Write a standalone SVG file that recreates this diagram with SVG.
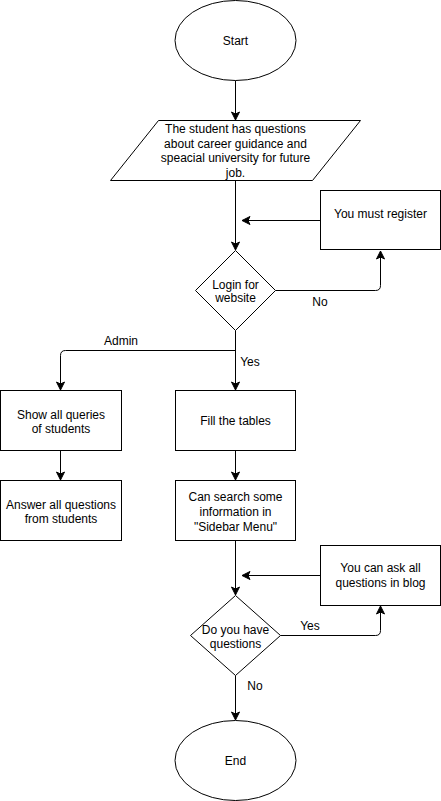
<svg xmlns="http://www.w3.org/2000/svg" width="441" height="801" viewBox="0 0 441 801">
<style>
.s{fill:#fff;stroke:#000;stroke-width:1}
.e{fill:none;stroke:#000;stroke-width:1}
text{font-family:"Liberation Sans",Arial,sans-serif;font-size:12px;fill:#000;text-anchor:middle}
</style>
<defs>
<marker id="a" markerUnits="userSpaceOnUse" markerWidth="10" markerHeight="10" viewBox="0 0 10 10" refX="9" refY="5" orient="auto">
<path d="M1,1 L9,5 L1,9 L3,5 z" fill="#000" stroke="#000" stroke-width="1"/>
</marker>
</defs>
<rect width="441" height="801" fill="#fff"/>
<g id="connectors">
<path class="e" d="M235.5,80.5 L235.5,120" marker-end="url(#a)"/>
<path class="e" d="M235.5,180.5 L235.5,250" marker-end="url(#a)"/>
<path class="e" d="M320.5,220.5 L242,220.5" marker-end="url(#a)"/>
<path class="e" d="M275.5,290.5 L375.5,290.5 Q380.5,290.5 380.5,285.5 L380.5,251" marker-end="url(#a)"/>
<path class="e" d="M235.5,330.5 L235.5,390" marker-end="url(#a)"/>
<path class="e" d="M235.5,350.5 L65.5,350.5 Q60.5,350.5 60.5,355.5 L60.5,390" marker-end="url(#a)"/>
<path class="e" d="M60.5,450.5 L60.5,480" marker-end="url(#a)"/>
<path class="e" d="M235.5,450.5 L235.5,480" marker-end="url(#a)"/>
<path class="e" d="M235.5,540.5 L235.5,595" marker-end="url(#a)"/>
<path class="e" d="M320.5,575.5 L242,575.5" marker-end="url(#a)"/>
<path class="e" d="M280.5,635.5 L375.5,635.5 Q380.5,635.5 380.5,630.5 L380.5,606" marker-end="url(#a)"/>
<path class="e" d="M235.5,675.5 L235.5,720" marker-end="url(#a)"/>
<text x="320" y="306">No</text>
<text x="121" y="345">Admin</text>
<text x="250" y="366">Yes</text>
<text x="310" y="630">Yes</text>
<text x="255" y="690">No</text>
</g>
<g id="start">
<ellipse class="s" cx="235.5" cy="40.5" rx="60.5" ry="40"/>
<text x="235.5" y="45">Start</text>
</g>
<g id="question">
<polygon class="s" points="158.5,120.5 360.5,120.5 312.5,180.5 110.5,180.5"/>
<text x="235.5" y="133">The student has questions</text>
<text x="235.5" y="148">about career guidance and</text>
<text x="235.5" y="162">speacial university for future</text>
<text x="235.5" y="177">job.</text>
</g>
<g id="register">
<rect class="s" x="320.5" y="190.5" width="120" height="59"/>
<text x="380.5" y="218">You must register</text>
</g>
<g id="login">
<polygon class="s" points="235.5,250.5 275.5,290.5 235.5,330.5 195.5,290.5"/>
<text x="235.5" y="289">Login for</text>
<text x="235.5" y="302">website</text>
</g>
<g id="show">
<rect class="s" x="0.5" y="390.5" width="121" height="60"/>
<text x="61" y="419">Show all queries</text>
<text x="61" y="433">of students</text>
</g>
<g id="answer">
<rect class="s" x="0.5" y="480.5" width="121" height="60"/>
<text x="61" y="509">Answer all questions</text>
<text x="61" y="523">from students</text>
</g>
<g id="fill">
<rect class="s" x="175.5" y="390.5" width="120" height="60"/>
<text x="235.5" y="425">Fill the tables</text>
</g>
<g id="search">
<rect class="s" x="175.5" y="480.5" width="120" height="60"/>
<text x="235.5" y="501">Can search some</text>
<text x="235.5" y="516">information in</text>
<text x="235.5" y="531">"Sidebar Menu"</text>
</g>
<g id="blog">
<rect class="s" x="320.5" y="545.5" width="120" height="60"/>
<text x="380.5" y="572">You can ask all</text>
<text x="380.5" y="587">questions in blog</text>
</g>
<g id="have">
<polygon class="s" points="235.5,595.5 280.5,635.5 235.5,675.5 190.5,635.5"/>
<text x="235.5" y="634">Do you have</text>
<text x="235.5" y="648">questions</text>
</g>
<g id="end">
<ellipse class="s" cx="235.5" cy="760.5" rx="60.5" ry="40"/>
<text x="235.5" y="765">End</text>
</g>
</svg>
